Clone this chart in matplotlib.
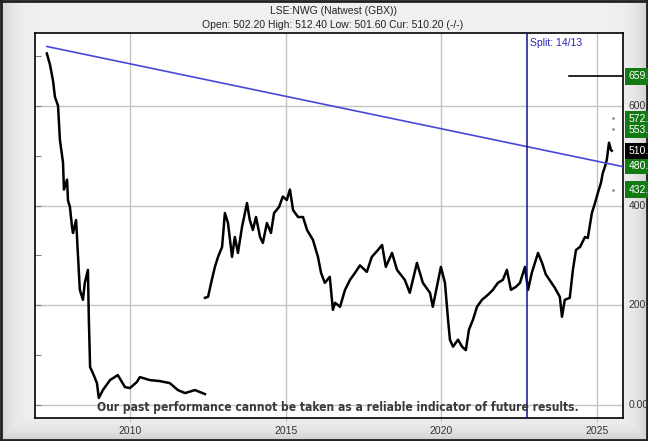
import numpy as np
import matplotlib
matplotlib.use("Agg")
import matplotlib.pyplot as plt
from matplotlib import font_manager

# price history before the share consolidation (decimal years, GBX)
pre_years = [2007.33, 2007.43, 2007.53, 2007.59, 2007.69, 2007.75, 2007.85, 2007.88,
             2007.98, 2008.01, 2008.07, 2008.14, 2008.17, 2008.27, 2008.33, 2008.39,
             2008.49, 2008.55, 2008.65, 2008.68, 2008.72, 2008.81, 2008.94, 2009.00,
             2009.13, 2009.36, 2009.61, 2009.84, 2010.00, 2010.22, 2010.32, 2010.64,
             2010.96, 2011.28, 2011.54, 2011.77, 2012.09, 2012.25, 2012.41]
pre_price = [705, 683, 650, 618, 600, 532, 486, 432,
             452, 410, 398, 357, 345, 371, 301, 231,
             211, 245, 271, 171, 76, 64, 44, 14,
             30, 50, 60, 36, 34, 46, 56, 50,
             48, 44, 30, 24, 30, 26, 22]

# price history after the consolidation
post_years = [2012.41, 2012.51, 2012.63, 2012.73, 2012.83, 2012.96, 2013.05, 2013.15,
              2013.28, 2013.37, 2013.47, 2013.60, 2013.76, 2013.85, 2013.95, 2014.05,
              2014.18, 2014.27, 2014.40, 2014.53, 2014.63, 2014.79, 2014.91, 2015.04,
              2015.14, 2015.24, 2015.40, 2015.56, 2015.69, 2015.88, 2016.04, 2016.14,
              2016.26, 2016.42, 2016.52, 2016.59, 2016.75, 2016.91, 2017.07, 2017.23,
              2017.39, 2017.61, 2017.77, 2017.97, 2018.10, 2018.22, 2018.42, 2018.58,
              2018.83, 2018.99, 2019.22, 2019.41, 2019.64, 2019.73, 2019.86, 2019.99,
              2020.12, 2020.22, 2020.28, 2020.38, 2020.54, 2020.67, 2020.79, 2020.89,
              2021.02, 2021.15, 2021.31, 2021.50, 2021.66, 2021.82, 2021.98, 2022.11,
              2022.24, 2022.40, 2022.53, 2022.69, 2022.79, 2022.91, 2023.11, 2023.24,
              2023.36, 2023.49, 2023.65, 2023.81, 2023.88, 2023.97, 2024.13, 2024.23,
              2024.33, 2024.46, 2024.62, 2024.71, 2024.84, 2024.94, 2025.03, 2025.13,
              2025.19, 2025.26, 2025.32, 2025.39, 2025.45, 2025.48]
post_price = [215, 217, 251, 277, 297, 317, 385, 365,
              297, 337, 305, 357, 405, 371, 351, 377,
              337, 325, 365, 345, 385, 397, 418, 411,
              432, 391, 377, 377, 351, 331, 297, 265,
              245, 257, 191, 205, 197, 231, 251, 265,
              280, 267, 297, 311, 321, 277, 305, 271,
              251, 225, 285, 245, 225, 197, 237, 277,
              245, 171, 131, 117, 131, 117, 110, 151,
              171, 197, 211, 221, 231, 245, 251, 271,
              231, 237, 245, 277, 231, 265, 305, 285,
              262, 250, 235, 217, 177, 211, 215, 271,
              311, 317, 337, 335, 385, 405, 425, 445,
              465, 478, 492, 526, 512, 510]

trend_years = [2007.33, 2025.84]
trend_price = [719, 478]
split_year = 2022.75
resist_years = [2024.1, 2025.84]
resist_price = [659, 659]

green_single = [659, 480, 432]
green_pair = [572, 553]
black_labels = [510]
axis_labels = [600, 400, 200, 0]
target_dots = [576, 553, 432]
year_ticks = [2010, 2015, 2020, 2025]

title1 = "LSE:NWG (Natwest (GBX))"
title2 = "Open: 502.20 High: 512.40 Low: 501.60 Cur: 510.20 (-/-)"
disclaimer = "Our past performance cannot be taken as a reliable indicator of future results."

plt.rcParams['font.family'] = ['Liberation Sans', 'DejaVu Sans']


def pick_narrow_bold():
    # look for any installed narrow / condensed bold face
    best = None
    for f in font_manager.fontManager.ttflist:
        name = (f.name + " " + str(f.fname)).lower()
        narrow = ('narrow' in name or 'condensed' in name or 'cond' in name
                  or f.stretch in ('condensed', 'semi-condensed', 'extra-condensed'))
        wt = f.weight if isinstance(f.weight, int) else 400
        if narrow and (wt >= 600 or 'bold' in name):
            if 'liberation' in name:
                return f.fname
            best = best or f.fname
    return best


fig = plt.figure(figsize=(6.48, 4.41), dpi=100)

# bevelled grey frame
bg = fig.add_axes([0, 0, 1, 1], zorder=-10)
h, w = 441, 648
yy, xx = np.mgrid[0:h, 0:w]
d = np.minimum(np.minimum(xx, w - 1 - xx), h - 1 - yy)
shade = 0.94 - 0.14 * np.exp(-d / 10.0)
bg.imshow(shade, cmap='gray', vmin=0, vmax=1, aspect='auto', extent=[0, 1, 0, 1])
bg.set_axis_off()
bg.axvline(0.0015, color='#202020', lw=2)
bg.axvline(0.9985, color='#202020', lw=2)
bg.axhline(0.002, color='#202020', lw=2)
bg.axhline(0.998, color='#202020', lw=2)

ax = fig.add_axes([35 / 648, 1 - 418 / 441, 588 / 648, 385 / 441])
ax.set_facecolor('white')
ax.set_xlim(2006.95, 2025.84)
ax.set_ylim(-26, 746)

for yr in year_ticks:
    ax.axvline(yr, color='#c4c4c4', lw=1, zorder=1)
for v in axis_labels:
    ax.axhline(v, color='#c4c4c4', lw=1, zorder=1)

ax.plot(pre_years, pre_price, color='black', lw=1.8, zorder=3)
ax.plot(post_years, post_price, color='black', lw=1.8, zorder=3)
ax.plot(trend_years, trend_price, color='#4848d8', lw=1.2, zorder=4)
ax.axvline(split_year, color='#10109a', lw=1.1, zorder=4)
ax.plot(resist_years, resist_price, color='black', lw=1.2, zorder=4)
ax.plot([2025.52] * len(target_dots), target_dots, ls='none', marker='.',
        ms=2, color='#909090', zorder=4)

ax.text(split_year + 0.1, 725, "Split: 14/13", color='#2626b8', fontsize=7.5,
        va='center', ha='left')

for s in ax.spines.values():
    s.set_color('black')
    s.set_linewidth(1.2)

ax.set_xticks(year_ticks)
ax.set_xticklabels([str(y) for y in year_ticks])
ax.tick_params(axis='x', direction='out', length=3, color='#c4c4c4',
               labelsize=7.5, labelcolor='#333333', pad=3)
ax.set_yticks(range(0, 800, 100))
ax.set_yticklabels([])
ax.tick_params(axis='y', direction='in', length=4, color='#808080')


def side_label(v, txt, fc, color='white'):
    kw = dict(xy=(1.0, v), xycoords=('axes fraction', 'data'), xytext=(4, 0),
              textcoords='offset points', va='center', ha='left', fontsize=7.5,
              color=color, annotation_clip=False, linespacing=1.05)
    if fc is not None:
        kw['bbox'] = dict(boxstyle='square,pad=0.3', fc=fc, ec='none')
    ax.annotate(txt, **kw)


for v in axis_labels:
    side_label(v, "0.00" if v == 0 else f"{v}.", None, '#333333')
for v in green_single:
    side_label(v, f"{v}.", '#137a13')
side_label(sum(green_pair) / 2, "\n".join(f"{v}." for v in green_pair), '#137a13')
for v in black_labels:
    side_label(v, f"{v}.", 'black')

fig.text(0.515, 1 - 11 / 441, title1, ha='center', va='center', fontsize=7.5,
         color='#222222')
fig.text(0.513, 1 - 25 / 441, title2, ha='center', va='center', fontsize=7.5,
         color='#222222')

# disclaimer: narrow bold face if one is installed, sized to the reference width
narrow = pick_narrow_bold()
if narrow:
    fp = font_manager.FontProperties(fname=narrow, size=11)
else:
    fp = font_manager.FontProperties(family='Liberation Sans', weight='bold', size=11)
disc = fig.text(338 / 648, 1 - 408 / 441, disclaimer, ha='center', va='center',
                fontproperties=fp, color='#3a3a3a', zorder=10)
fig.canvas.draw()
width_px = disc.get_window_extent().width
disc.set_fontsize(11 * 481 / width_px)

fig.savefig("out.png", dpi=100)
